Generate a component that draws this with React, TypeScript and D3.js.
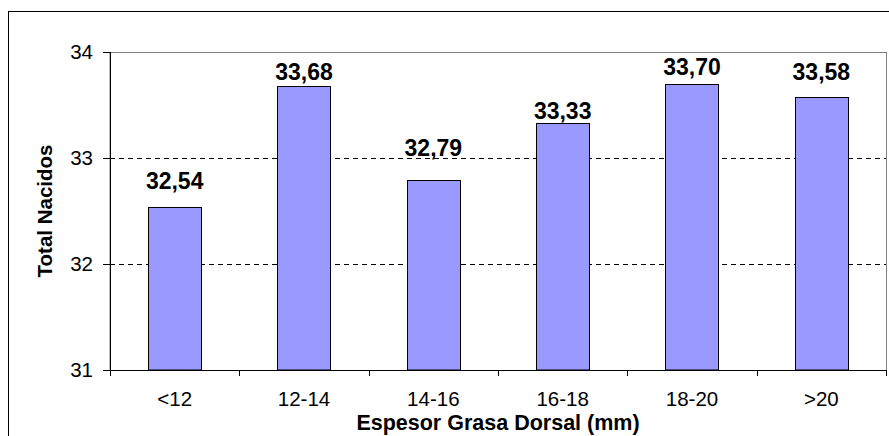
import React from "react";
import * as d3 from "d3";

const categories = ["<12", "12-14", "14-16", "16-18", "18-20", ">20"];
const values = [32.54, 33.68, 32.79, 33.33, 33.7, 33.58];
const valueLabels = ["32,54", "33,68", "32,79", "33,33", "33,70", "33,58"];
const yTicks = [31, 32, 33, 34];
const gridValues = [32, 33];
const yTitle = "Total Nacidos";
const xTitle = "Espesor Grasa Dorsal (mm)";

// manual label lift (px above bar top to label centre), as in the original
const labelLift = [26, 14, 33, 12, 17, 25];

const W = 889;
const H = 436;
const plot = { left: 110, top: 52, right: 886, bottom: 370 };
const font = "'Liberation Sans', Arial, sans-serif";

export default function App() {
  const x = d3
    .scaleBand<string>()
    .domain(categories)
    .range([plot.left, plot.right])
    .padding(0);
  const y = d3.scaleLinear().domain([31, 34]).range([plot.bottom, plot.top]);
  const bw = x.bandwidth() * 0.41;
  const step = x.step();
  const boundaries = d3.range(categories.length + 1).map((i) => plot.left + i * step);

  return (
    <svg
      width={W}
      height={H}
      style={{ position: "absolute", left: 0, top: 0, background: "#fff" }}
    >
      <rect x={0} y={0} width={W} height={H} fill="#fff" />
      {/* outer chart border */}
      <rect x={8.5} y={11.5} width={886} height={432} fill="none" stroke="#000" strokeWidth={1} />
      {/* plot area */}
      <rect
        x={plot.left}
        y={plot.top + 0.5}
        width={plot.right - plot.left + 0.5}
        height={plot.bottom - plot.top}
        fill="#fff"
        stroke="#808080"
        strokeWidth={1}
      />
      {/* gridlines */}
      {gridValues.map((v) => (
        <line
          key={v}
          x1={plot.left}
          x2={plot.right}
          y1={Math.round(y(v)) + 0.5}
          y2={Math.round(y(v)) + 0.5}
          stroke="#000"
          strokeWidth={1}
          strokeDasharray="5,4"
        />
      ))}
      {/* bars */}
      {categories.map((c, i) => {
        const cx = (x(c) as number) + x.bandwidth() / 2;
        const top = y(values[i]);
        return (
          <rect
            key={c}
            x={Math.round(cx - bw / 2) + 0.5}
            y={Math.round(top) + 0.5}
            width={Math.round(bw)}
            height={plot.bottom - Math.round(top) - 0.5}
            fill="#9999FF"
            stroke="#000"
            strokeWidth={1}
          />
        );
      })}
      {/* axes */}
      <line x1={plot.left + 0.5} x2={plot.left + 0.5} y1={plot.top} y2={plot.bottom} stroke="#000" />
      <line x1={plot.left} x2={plot.right + 1} y1={plot.bottom + 0.5} y2={plot.bottom + 0.5} stroke="#000" />
      {yTicks.map((t) => (
        <g key={t}>
          <line
            x1={plot.left - 7}
            x2={plot.left}
            y1={Math.round(y(t)) + 0.5}
            y2={Math.round(y(t)) + 0.5}
            stroke="#000"
          />
          <text
            x={93}
            y={y(t)}
            dy="0.35em"
            textAnchor="end"
            fontFamily={font}
            fontSize={20.5}
            fill="#000"
          >
            {t}
          </text>
        </g>
      ))}
      {boundaries.map((b, i) => (
        <line
          key={i}
          x1={Math.round(b) + 0.5}
          x2={Math.round(b) + 0.5}
          y1={plot.bottom}
          y2={plot.bottom + 6}
          stroke="#000"
        />
      ))}
      {categories.map((c) => (
        <text
          key={c}
          x={(x(c) as number) + x.bandwidth() / 2}
          y={406}
          textAnchor="middle"
          fontFamily={font}
          fontSize={20.5}
          fill="#000"
        >
          {c}
        </text>
      ))}
      {/* value labels */}
      {categories.map((c, i) => (
        <text
          key={c}
          x={(x(c) as number) + x.bandwidth() / 2}
          y={y(values[i]) - labelLift[i]}
          dy="0.36em"
          textAnchor="middle"
          fontFamily={font}
          fontSize={23}
          fontWeight="bold"
          fill="#000"
        >
          {valueLabels[i]}
        </text>
      ))}
      {/* axis titles */}
      <text
        x={(plot.left + plot.right) / 2}
        y={430}
        textAnchor="middle"
        fontFamily={font}
        fontSize={21.5}
        fontWeight="bold"
        fill="#000"
      >
        {xTitle}
      </text>
      <text
        transform={`translate(52, ${(plot.top + plot.bottom) / 2}) rotate(-90)`}
        textAnchor="middle"
        fontFamily={font}
        fontSize={20.5}
        fontWeight="bold"
        fill="#000"
      >
        {yTitle}
      </text>
    </svg>
  );
}
